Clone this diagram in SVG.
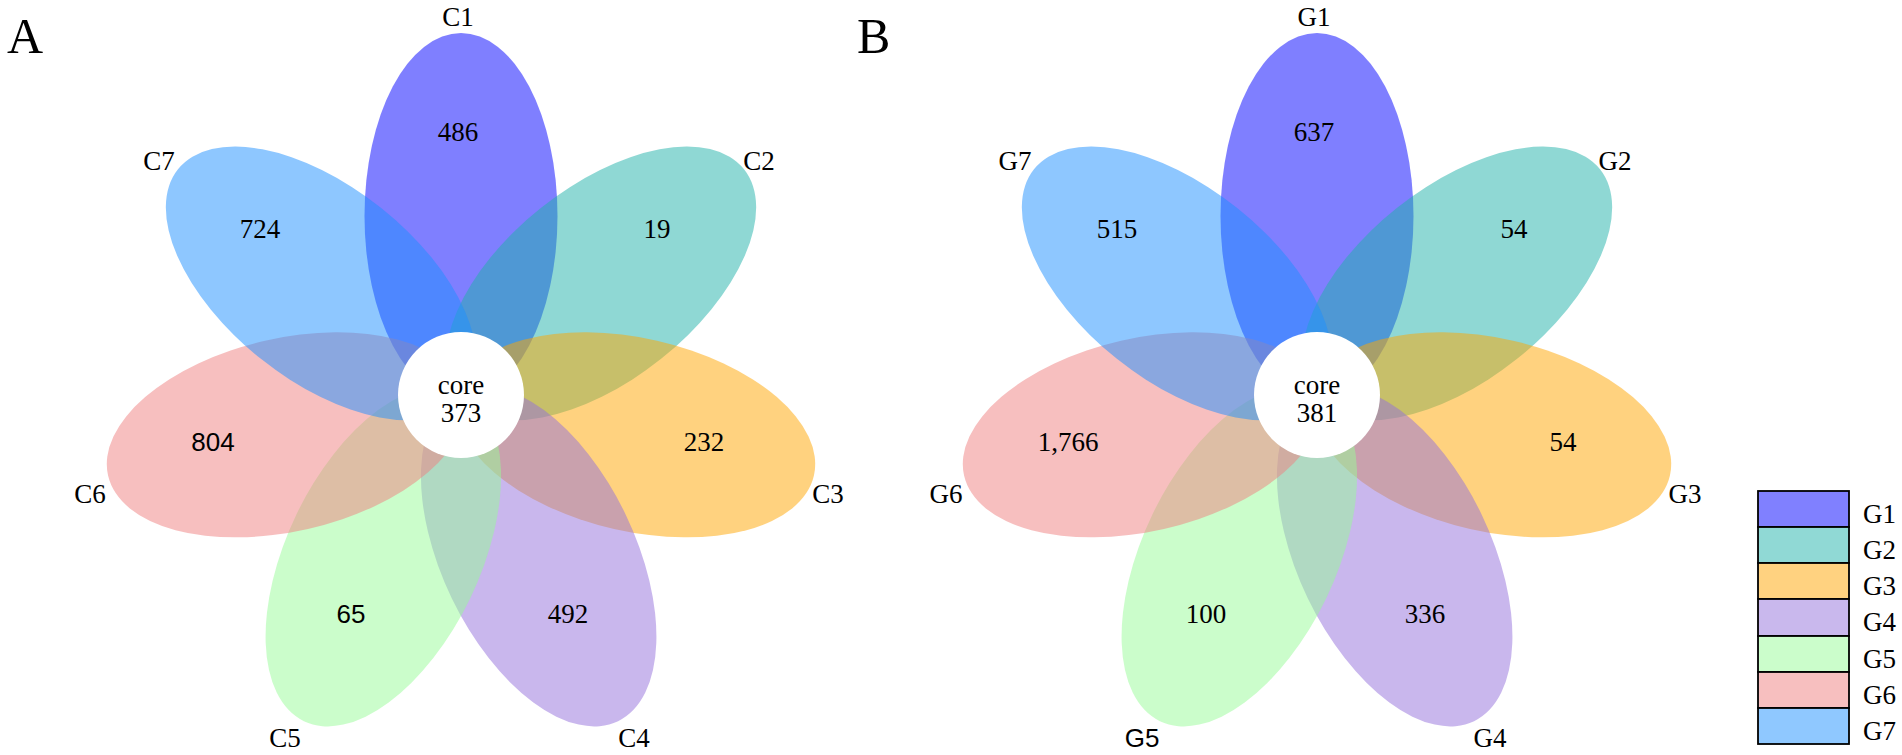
<svg xmlns="http://www.w3.org/2000/svg" width="1902" height="755" viewBox="0 0 1902 755">
<style>
.t{font-family:"Liberation Serif","Times New Roman",serif;font-size:27px;fill:#000;text-anchor:middle}
.s{font-family:"Liberation Sans",Arial,sans-serif;font-size:26px;fill:#000;text-anchor:middle}
.p{fill-opacity:0.5}
.core{fill:#fff}
.lg{stroke:#000;stroke-width:1.8}
.lt{font-family:"Liberation Serif","Times New Roman",serif;font-size:27px;fill:#000}
.big{font-family:"Liberation Serif","Times New Roman",serif;font-size:50px;fill:#000}
</style>
<defs>
<ellipse id="pet" cx="179" cy="0" rx="183" ry="96.5"/>
</defs>
<rect width="1902" height="755" fill="#fff"/>
<text class="big" x="7" y="53">A</text>
<text class="big" x="857" y="53">B</text>

<g id="panelA">
<g id="petalsA" transform="translate(461,395)">
<use id="A_C1" href="#pet" class="p" fill="#0000FF" transform="rotate(-90)"/>
<use id="A_C2" href="#pet" class="p" fill="#20B2AA" transform="rotate(-38.571)"/>
<use id="A_C3" href="#pet" class="p" fill="#FFA500" transform="rotate(12.857)"/>
<use id="A_C4" href="#pet" class="p" fill="#9370DB" transform="rotate(64.286)"/>
<use id="A_C5" href="#pet" class="p" fill="#98FB98" transform="rotate(115.714)"/>
<use id="A_C6" href="#pet" class="p" fill="#F08080" transform="rotate(167.143)"/>
<use id="A_C7" href="#pet" class="p" fill="#1E90FF" transform="rotate(218.571)"/>
</g>
<g id="coreA">
<circle class="core" cx="461" cy="395" r="63"/>
<text class="t" x="461" y="394" font-size="26">core</text>
<text class="t" x="461" y="422" font-size="26">373</text>
</g>
<g id="labelsA">
<text class="t" x="458" y="26">C1</text>
<text class="t" x="759" y="170">C2</text>
<text class="t" x="828" y="503">C3</text>
<text class="t" x="634" y="747">C4</text>
<text class="t" x="285" y="747">C5</text>
<text class="t" x="90" y="503">C6</text>
<text class="t" x="159" y="170">C7</text>
</g>
<g id="valuesA">
<text class="t" x="458" y="141">486</text>
<text class="t" x="657" y="238">19</text>
<text class="t" x="704" y="451">232</text>
<text class="t" x="568" y="623">492</text>
<text class="s" x="351" y="623">65</text>
<text class="s" x="213" y="451">804</text>
<text class="t" x="260" y="238">724</text>
</g>
</g>

<g id="panelB">
<g id="petalsB" transform="translate(1317,395)">
<use id="B_G1" href="#pet" class="p" fill="#0000FF" transform="rotate(-90)"/>
<use id="B_G2" href="#pet" class="p" fill="#20B2AA" transform="rotate(-38.571)"/>
<use id="B_G3" href="#pet" class="p" fill="#FFA500" transform="rotate(12.857)"/>
<use id="B_G4" href="#pet" class="p" fill="#9370DB" transform="rotate(64.286)"/>
<use id="B_G5" href="#pet" class="p" fill="#98FB98" transform="rotate(115.714)"/>
<use id="B_G6" href="#pet" class="p" fill="#F08080" transform="rotate(167.143)"/>
<use id="B_G7" href="#pet" class="p" fill="#1E90FF" transform="rotate(218.571)"/>
</g>
<g id="coreB">
<circle class="core" cx="1317" cy="395" r="63"/>
<text class="t" x="1317" y="394" font-size="26">core</text>
<text class="t" x="1317" y="422" font-size="26">381</text>
</g>
<g id="labelsB">
<text class="t" x="1314" y="26">G1</text>
<text class="t" x="1615" y="170">G2</text>
<text class="t" x="1685" y="503">G3</text>
<text class="t" x="1490" y="747">G4</text>
<text class="s" x="1142" y="747">G5</text>
<text class="t" x="946" y="503">G6</text>
<text class="t" x="1015" y="170">G7</text>
</g>
<g id="valuesB">
<text class="t" x="1314" y="141">637</text>
<text class="t" x="1514" y="238">54</text>
<text class="t" x="1563" y="451">54</text>
<text class="t" x="1425" y="623">336</text>
<text class="t" x="1206" y="623">100</text>
<text class="t" x="1068" y="451">1,766</text>
<text class="t" x="1117" y="238">515</text>
</g>
</g>

<g id="legend">
<rect class="lg" x="1758" y="491" width="91" height="36" fill="#8080FF"/>
<rect class="lg" x="1758" y="527" width="91" height="36" fill="#90D9D5"/>
<rect class="lg" x="1758" y="563" width="91" height="36" fill="#FFD280"/>
<rect class="lg" x="1758" y="599" width="91" height="37" fill="#C9B8ED"/>
<rect class="lg" x="1758" y="636" width="91" height="36" fill="#CBFDCB"/>
<rect class="lg" x="1758" y="672" width="91" height="36" fill="#F7BFBF"/>
<rect class="lg" x="1758" y="708" width="91" height="36" fill="#8FC8FF"/>
<text class="lt" x="1863" y="523">G1</text>
<text class="lt" x="1863" y="559">G2</text>
<text class="lt" x="1863" y="595">G3</text>
<text class="lt" x="1863" y="631">G4</text>
<text class="lt" x="1863" y="668">G5</text>
<text class="lt" x="1863" y="704">G6</text>
<text class="lt" x="1863" y="740">G7</text>
</g>
</svg>
